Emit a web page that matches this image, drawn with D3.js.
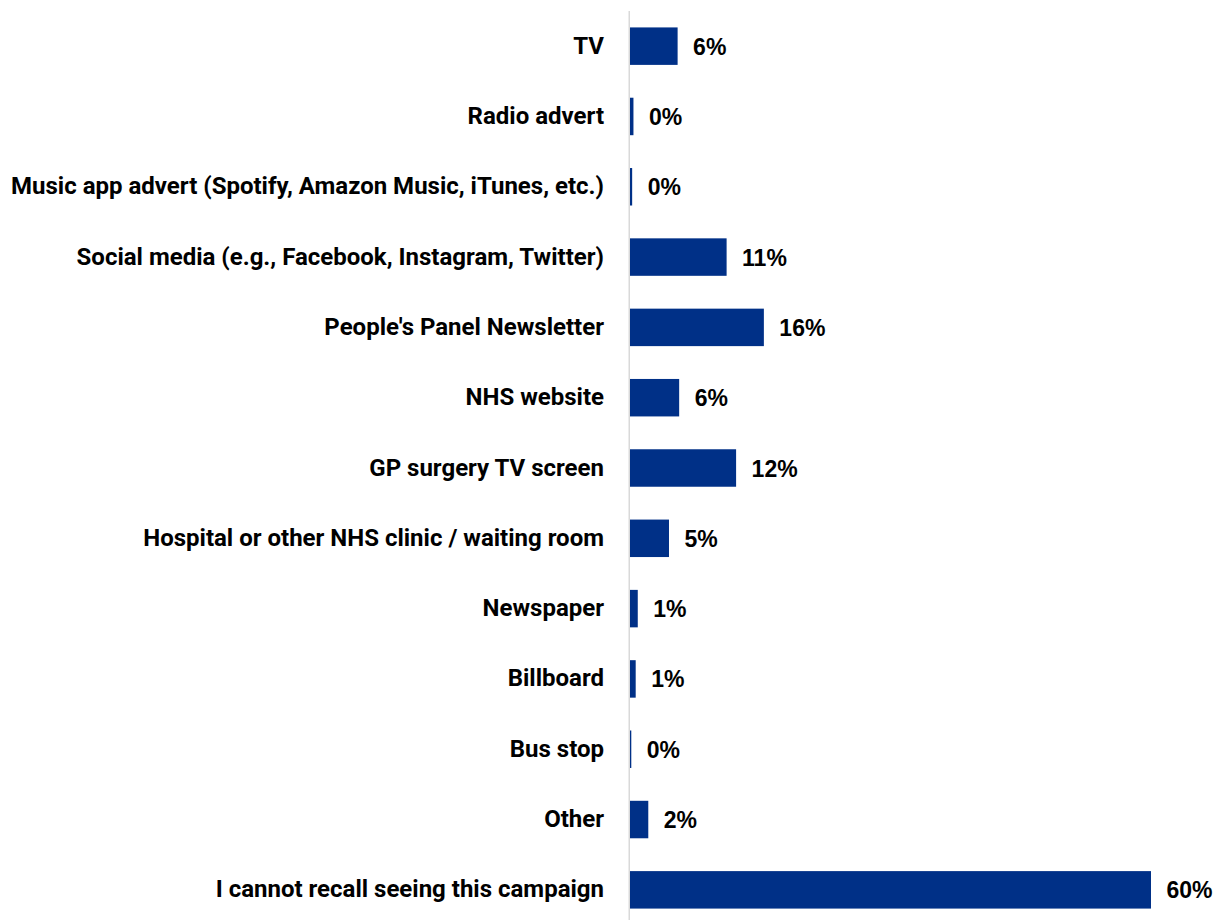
<!DOCTYPE html>
<html>
<head>
<meta charset="utf-8">
<script src="https://cdn.jsdelivr.net/npm/d3@7"></script>
<style>
  html, body { margin: 0; padding: 0; background: #fff; }
  svg { display: block; }
</style>
</head>
<body>
<div id="chart"></div>
<script>
// Where respondents saw the campaign (% of respondents)
const categories = [
  "TV",
  "Radio advert",
  "Music app advert (Spotify, Amazon Music, iTunes, etc.)",
  "Social media (e.g., Facebook, Instagram, Twitter)",
  "People's Panel Newsletter",
  "NHS website",
  "GP surgery TV screen",
  "Hospital or other NHS clinic / waiting room",
  "Newspaper",
  "Billboard",
  "Bus stop",
  "Other",
  "I cannot recall seeing this campaign"
];
const values = [5.52, 0.4, 0.25, 11.2, 15.52, 5.7, 12.3, 4.52, 0.9, 0.66, 0.15, 2.12, 60.4];

const width = 1221, height = 920;
const barColor = "#003087";

const svg = d3.select("#chart").append("svg")
  .attr("width", width)
  .attr("height", height);

const x = d3.scaleLinear()
  .domain([0, d3.max(values)])
  .range([630, 1151]);

const y = d3.scaleBand()
  .domain(categories)
  .range([11, 925])
  .paddingInner(0.467)
  .paddingOuter(0.2335);

const rows = categories.map((c, i) => ({ cat: c, val: values[i] }));
const pct = v => d3.format(".0f")(v) + "%";

// vertical category axis line
svg.append("line")
  .attr("x1", 629.25).attr("x2", 629.25)
  .attr("y1", y.range()[0]).attr("y2", y.range()[1])
  .attr("stroke", "#d9d9d9")
  .attr("stroke-width", 1.5);

// bars
svg.append("g").selectAll("rect")
  .data(rows)
  .join("rect")
  .attr("x", x(0))
  .attr("y", d => y(d.cat))
  .attr("width", d => x(d.val) - x(0))
  .attr("height", y.bandwidth())
  .attr("fill", barColor);

// category labels
svg.append("g").selectAll("text")
  .data(rows)
  .join("text")
  .attr("x", 604)
  .attr("y", d => y(d.cat) + y.bandwidth() / 2 + 7.5)
  .attr("text-anchor", "end")
  .attr("font-family", "Roboto, 'Noto Sans', sans-serif")
  .attr("font-weight", "bold")
  .attr("font-size", 24)
  .attr("fill", "#000")
  .text(d => d.cat);

// value labels
svg.append("g").selectAll("text")
  .data(rows)
  .join("text")
  .attr("x", d => x(d.val) + 15.5)
  .attr("y", d => y(d.cat) + y.bandwidth() / 2 + 8.5)
  .attr("font-family", "'Liberation Sans', Arial, sans-serif")
  .attr("font-weight", "bold")
  .attr("font-size", 23)
  .attr("fill", "#000")
  .text(d => pct(d.val));
</script>
</body>
</html>
